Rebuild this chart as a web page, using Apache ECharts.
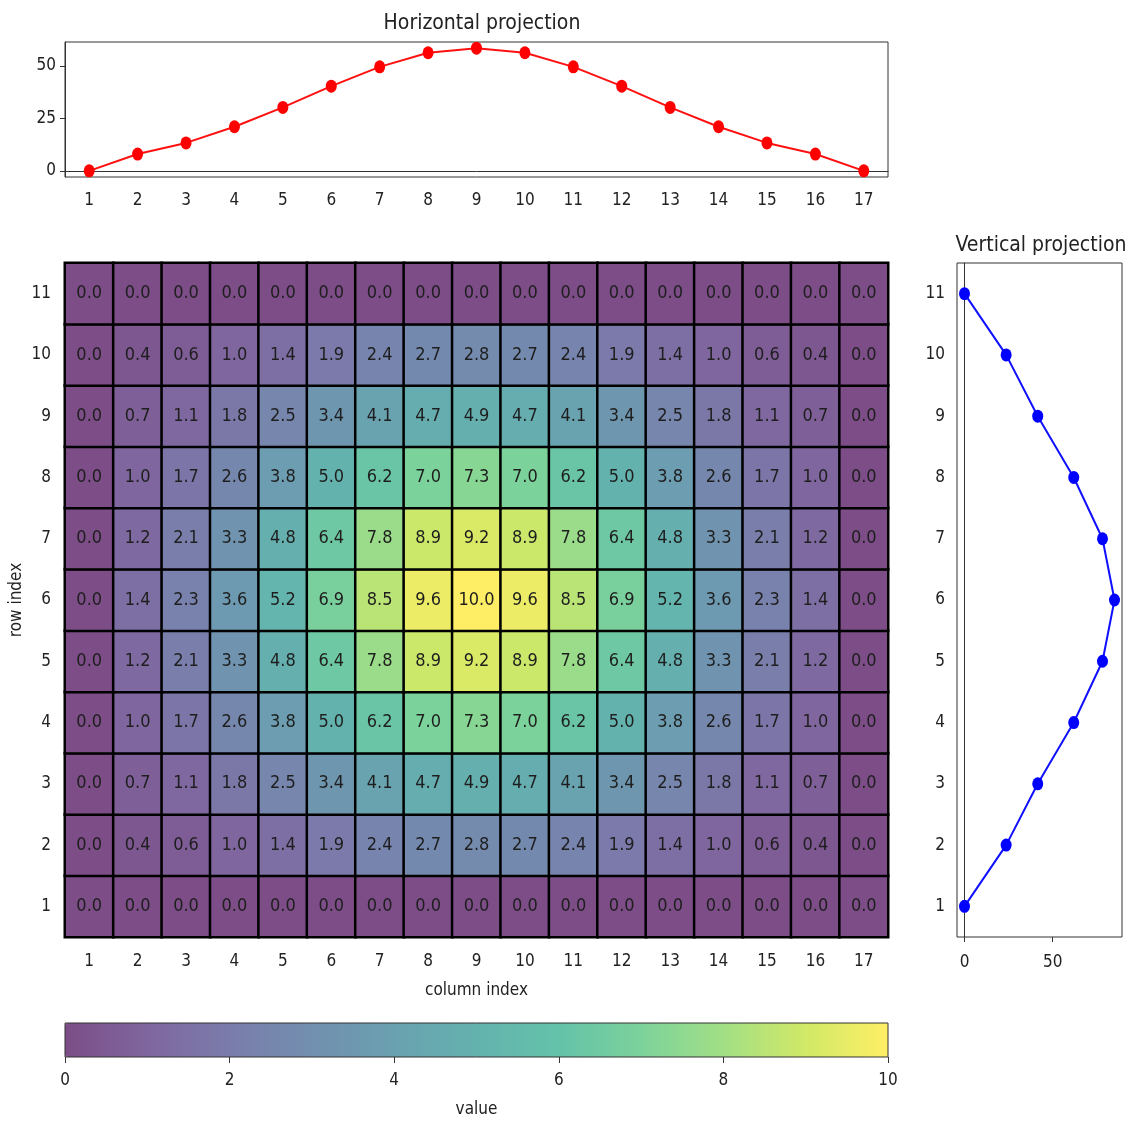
<!DOCTYPE html>
<html>
<head>
<meta charset="utf-8">
<title>Projections of a 2-D field</title>
<script src="https://cdn.jsdelivr.net/npm/echarts@6/dist/echarts.min.js"></script>
<style>
  html, body { margin: 0; padding: 0; background: #fff; }
  #chart { width: 1130px; height: 1122px; }
</style>
</head>
<body>
<div id="chart"></div>
<script>
// Column and row labels
const columnLabels = ['1','2','3','4','5','6','7','8','9','10','11','12','13','14','15','16','17'];
const rowLabels = ['1','2','3','4','5','6','7','8','9','10','11'];

// Cell values, one array per row (row 1 at the bottom)
const row1  = [0.0,0.0,0.0,0.0,0.0,0.0,0.0,0.0,0.0,0.0,0.0,0.0,0.0,0.0,0.0,0.0,0.0];
const row2  = [0.0,0.4,0.6,1.0,1.4,1.9,2.4,2.7,2.8,2.7,2.4,1.9,1.4,1.0,0.6,0.4,0.0];
const row3  = [0.0,0.7,1.1,1.8,2.5,3.4,4.1,4.7,4.9,4.7,4.1,3.4,2.5,1.8,1.1,0.7,0.0];
const row4  = [0.0,1.0,1.7,2.6,3.8,5.0,6.2,7.0,7.3,7.0,6.2,5.0,3.8,2.6,1.7,1.0,0.0];
const row5  = [0.0,1.2,2.1,3.3,4.8,6.4,7.8,8.9,9.2,8.9,7.8,6.4,4.8,3.3,2.1,1.2,0.0];
const row6  = [0.0,1.4,2.3,3.6,5.2,6.9,8.5,9.6,10.0,9.6,8.5,6.9,5.2,3.6,2.3,1.4,0.0];
const row7  = [0.0,1.2,2.1,3.3,4.8,6.4,7.8,8.9,9.2,8.9,7.8,6.4,4.8,3.3,2.1,1.2,0.0];
const row8  = [0.0,1.0,1.7,2.6,3.8,5.0,6.2,7.0,7.3,7.0,6.2,5.0,3.8,2.6,1.7,1.0,0.0];
const row9  = [0.0,0.7,1.1,1.8,2.5,3.4,4.1,4.7,4.9,4.7,4.1,3.4,2.5,1.8,1.1,0.7,0.0];
const row10 = [0.0,0.4,0.6,1.0,1.4,1.9,2.4,2.7,2.8,2.7,2.4,1.9,1.4,1.0,0.6,0.4,0.0];
const row11 = [0.0,0.0,0.0,0.0,0.0,0.0,0.0,0.0,0.0,0.0,0.0,0.0,0.0,0.0,0.0,0.0,0.0];

// Projections: sum over rows per column, and sum over columns per row
const horizontalProjection = [0.0,8.0,13.3,21.0,30.2,40.3,49.5,56.2,58.4,56.2,49.5,40.3,30.2,21.0,13.3,8.0,0.0];
const verticalProjection = [0.0,23.6,41.5,61.9,78.2,85.0,78.2,61.9,41.5,23.6,0.0];

// Tick values
const topYTicks = [0, 25, 50];
const rightXTicks = [0, 50];
const colorbarTicks = [0, 2, 4, 6, 8, 10];

// Viridis, softened as if drawn at 70% opacity on white
const viridisSoft = ['#7c4d87','#7f669e','#7a7cab','#728faf','#6aa1b0','#64b2ae',
                     '#64c2a9','#7cd29b','#a2df85','#d1e967','#feee66'];

const rows = [row1,row2,row3,row4,row5,row6,row7,row8,row9,row10,row11];
const heatData = [];
rows.forEach((r, yi) => r.forEach((v, xi) => heatData.push([xi, yi, v])));

const FONT = '"DejaVu Sans Condensed", "DejaVu Sans", sans-serif';
const TXT = '#222';
const tickLabel = { color: TXT, fontFamily: FONT, fontSize: 17 };
const lineStyleAxis = { color: '#333', width: 1 };
const fixedGrid = { outerBoundsMode: 'none', containLabel: false };

const chart = echarts.init(document.getElementById('chart'));

chart.setOption({
  animation: false,
  backgroundColor: '#fff',
  textStyle: { fontFamily: FONT },
  title: [
    { text: 'Horizontal projection', left: 477, top: 8, textAlign: 'center',
      textStyle: { fontFamily: FONT, fontSize: 21, fontWeight: 'normal', color: TXT } },
    { text: 'Vertical projection', left: 1036, top: 230, textAlign: 'center',
      textStyle: { fontFamily: FONT, fontSize: 21, fontWeight: 'normal', color: TXT } }
  ],
  grid: [
    Object.assign({ left: 65, top: 263, width: 823, height: 674 }, fixedGrid),
    Object.assign({ left: 65, top: 42, width: 823, height: 135, show: true, borderColor: '#333', borderWidth: 1, backgroundColor: 'transparent' }, fixedGrid),
    Object.assign({ left: 957, top: 263, width: 165, height: 674, show: true, borderColor: '#333', borderWidth: 1, backgroundColor: 'transparent' }, fixedGrid),
    Object.assign({ left: 65, top: 1023, width: 823, height: 34, show: true, borderColor: '#333', borderWidth: 1, backgroundColor: 'transparent', z: 10 }, fixedGrid)
  ],
  xAxis: [
    { // heatmap columns
      type: 'category', gridIndex: 0, data: columnLabels,
      axisLine: { lineStyle: lineStyleAxis }, axisTick: { length: 4, lineStyle: lineStyleAxis },
      axisLabel: Object.assign({ margin: 16 }, tickLabel), splitLine: { show: false },
      name: 'column index', nameLocation: 'middle', nameGap: 45,
      nameTextStyle: { color: TXT, fontFamily: FONT, fontSize: 17 }
    },
    { // top plot, major ticks on columns
      type: 'category', gridIndex: 1, data: columnLabels,
      axisLine: { lineStyle: lineStyleAxis },
      axisTick: { alignWithLabel: true, length: 5, lineStyle: lineStyleAxis },
      axisLabel: Object.assign({ margin: 15 }, tickLabel)
    },
    { // top plot, minor ticks between columns
      type: 'category', gridIndex: 1, data: columnLabels, position: 'bottom',
      axisLine: { show: false }, axisTick: { length: 3, lineStyle: lineStyleAxis },
      axisLabel: { show: false }
    },
    { // right plot, projected sums
      type: 'value', gridIndex: 2, min: -4.25, max: 89.25,
      axisLine: { lineStyle: lineStyleAxis },
      axisTick: { show: true, customValues: rightXTicks, length: 5, lineStyle: lineStyleAxis },
      axisLabel: Object.assign({ customValues: rightXTicks, margin: 17 }, tickLabel),
      splitLine: { show: false }
    },
    { // colorbar scale
      type: 'value', gridIndex: 3, min: 0, max: 10, z: 12,
      axisLine: { show: false },
      axisTick: { show: true, customValues: colorbarTicks, length: 6, lineStyle: lineStyleAxis },
      axisLabel: Object.assign({ customValues: colorbarTicks, margin: 15 }, tickLabel),
      splitLine: { show: false },
      name: 'value', nameLocation: 'middle', nameGap: 44,
      nameTextStyle: { color: TXT, fontFamily: FONT, fontSize: 17 }
    }
  ],
  yAxis: [
    { // heatmap rows
      type: 'category', gridIndex: 0, data: rowLabels,
      axisLine: { lineStyle: lineStyleAxis }, axisTick: { length: 4, lineStyle: lineStyleAxis },
      axisLabel: Object.assign({ margin: 14 }, tickLabel), splitLine: { show: false },
      name: 'row index', nameLocation: 'middle', nameGap: 40, nameRotate: 90,
      nameMoveOverlap: false,
      nameTextStyle: { color: TXT, fontFamily: FONT, fontSize: 17 }
    },
    { // top plot sums
      type: 'value', gridIndex: 1, min: -2.92, max: 61.32,
      axisLine: { show: true, lineStyle: lineStyleAxis },
      axisTick: { show: true, customValues: topYTicks, length: 5, lineStyle: lineStyleAxis },
      axisLabel: Object.assign({ customValues: topYTicks, margin: 9 }, tickLabel),
      splitLine: { show: false }
    },
    { // right plot, major ticks on rows
      type: 'category', gridIndex: 2, data: rowLabels,
      axisLine: { lineStyle: lineStyleAxis },
      axisTick: { alignWithLabel: true, length: 5, lineStyle: lineStyleAxis },
      axisLabel: Object.assign({ margin: 12 }, tickLabel)
    },
    { // right plot, minor ticks between rows
      type: 'category', gridIndex: 2, data: rowLabels, position: 'left',
      axisLine: { show: false }, axisTick: { length: 3, lineStyle: lineStyleAxis },
      axisLabel: { show: false }
    },
    { // colorbar (no scale shown)
      type: 'value', gridIndex: 3, min: 0, max: 1, show: false
    }
  ],
  visualMap: {
    type: 'continuous', seriesIndex: 0, min: 0, max: 10,
    orient: 'horizontal', left: 65, top: 1023, padding: 0,
    itemWidth: 34, itemHeight: 823, calculable: false, text: null, showLabel: false,
    inRange: { color: viridisSoft }
  },
  series: [
    {
      type: 'heatmap', xAxisIndex: 0, yAxisIndex: 0, data: heatData,
      itemStyle: { borderColor: '#000', borderWidth: 2.5 },
      label: {
        show: true, color: '#1e1e1e', fontFamily: FONT, fontSize: 18,
        formatter: p => p.value[2].toFixed(1)
      },
      emphasis: { disabled: true }
    },
    {
      type: 'line', xAxisIndex: 1, yAxisIndex: 1, data: horizontalProjection,
      symbol: 'circle', symbolSize: [11, 13],
      lineStyle: { color: '#ff1010', width: 2 },
      itemStyle: { color: '#ff0000' }
    },
    {
      type: 'line', xAxisIndex: 3, yAxisIndex: 2,
      data: verticalProjection.map((v, i) => [v, i]),
      symbol: 'circle', symbolSize: [11, 13],
      lineStyle: { color: '#1010ff', width: 2 },
      itemStyle: { color: '#0000ff' }
    }
  ]
});
</script>
</body>
</html>
